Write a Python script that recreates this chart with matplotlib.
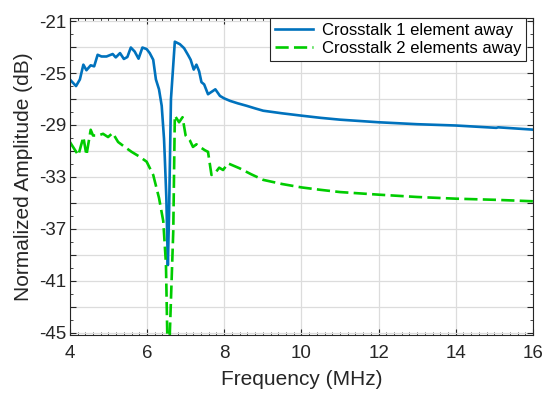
import numpy as np
import matplotlib.pyplot as plt
from matplotlib.ticker import MultipleLocator, FixedLocator, FuncFormatter

plt.rcParams['font.family'] = ['Liberation Sans', 'DejaVu Sans']

# crosstalk 1 element away (MHz, dB)
f1 = [4.00, 4.16, 4.26, 4.35, 4.43, 4.54, 4.63, 4.72, 4.82, 4.95, 5.11, 5.19, 5.30,
      5.40, 5.49, 5.58, 5.68, 5.78, 5.88, 5.99, 6.07, 6.16, 6.23, 6.31, 6.38, 6.44,
      6.46, 6.50, 6.54, 6.57, 6.62, 6.72, 6.85, 6.96, 7.06, 7.13, 7.21, 7.28, 7.35,
      7.41, 7.48, 7.58, 7.77, 7.89, 8.0, 8.15, 8.35, 8.58, 8.8, 9.01, 9.5, 10.0, 10.5,
      11.0, 12.0, 13.0, 14.0, 15.05, 15.1, 15.96, 16.0]
a1 = [-25.49, -26.0, -25.49, -24.35, -24.78, -24.40, -24.48, -23.59, -23.72, -23.72,
      -23.53, -23.79, -23.46, -23.91, -23.76, -23.03, -23.34, -23.89, -23.03, -23.15,
      -23.46, -23.97, -25.49, -26.25, -27.52, -30.06, -31.5, -34.6, -39.8, -35.9,
      -27.0, -22.58, -22.77, -23.08, -23.59, -23.97, -24.73, -24.35, -24.86, -25.70,
      -25.87, -26.63, -26.25, -26.76, -26.95, -27.14, -27.33, -27.52, -27.72, -27.9,
      -28.1, -28.28, -28.45, -28.59, -28.79, -28.94, -29.04, -29.22, -29.18, -29.35,
      -29.36]

# crosstalk 2 elements away
f2 = [4.00, 4.22, 4.35, 4.43, 4.54, 4.60, 4.73, 4.86, 4.99, 5.11, 5.25, 5.42, 5.60,
      5.81, 5.99, 6.16, 6.31, 6.42, 6.49, 6.53, 6.58, 6.68, 6.72, 6.83, 6.92, 7.00,
      7.11, 7.19, 7.28, 7.37, 7.50, 7.58, 7.67, 7.76, 7.87, 7.97, 8.10, 8.40, 8.7,
      9.01, 9.5, 10.0, 10.5, 11.0, 12.0, 13.0, 14.0, 15.05, 16.0]
a2 = [-30.31, -31.33, -29.93, -31.33, -29.37, -29.81, -29.81, -29.68, -29.93, -29.62,
      -30.31, -30.69, -31.07, -31.45, -31.83, -32.85, -34.62, -36.40, -39.70, -46.0,
      -46.0, -37.16, -28.28, -28.79, -28.40, -29.81, -30.19, -30.69, -30.49, -30.69,
      -30.95, -31.07, -32.85, -32.72, -32.29, -32.47, -31.96, -32.34, -32.8, -33.23,
      -33.55, -33.81, -34.0, -34.17, -34.37, -34.55, -34.68, -34.77, -34.88]

ytick_vals = np.arange(-45, -20, 2)

fig = plt.figure(figsize=(5.5, 3.99), dpi=100)
ax = fig.add_axes([0.127, 0.160, 0.842, 0.795])

ax.plot(f1, a1, color='#0072BD', lw=1.9, label='Crosstalk 1 element away')
ax.plot(f2, a2, color='#00CC00', lw=1.9, ls=(0, (5, 2)), label='Crosstalk 2 elements away')

ax.set_xlim(4, 16)
ax.set_ylim(-45.2, -20.75)
ax.xaxis.set_major_locator(MultipleLocator(2))
ax.xaxis.set_minor_locator(MultipleLocator(0.2))
ax.yaxis.set_major_locator(FixedLocator(ytick_vals))
ax.yaxis.set_minor_locator(MultipleLocator(1))
ax.yaxis.set_major_formatter(FuncFormatter(lambda v, p: '%d' % round(v) if round(v) % 4 == 3 else ''))

ax.grid(True, which='major', color='#dcdcdc', lw=0.9)
ax.set_axisbelow(True)
ax.tick_params(which='both', direction='in', top=True, right=True, colors='#262626', labelsize=13.5)
ax.tick_params(which='major', length=4)
ax.tick_params(which='minor', length=2.5)
ax.tick_params(axis='x', pad=7)
ax.tick_params(axis='y', pad=2.5)
for s in ax.spines.values():
    s.set_color('#262626')
    s.set_linewidth(0.8)

ax.set_xlabel('Frequency (MHz)', fontsize=15, color='#262626', labelpad=6)
ax.set_ylabel('Normalized Amplitude (dB)', fontsize=15, color='#262626', labelpad=4)

leg = ax.legend(loc='upper right', bbox_to_anchor=(0.985, 1.0), fontsize=12, fancybox=False,
                framealpha=1, edgecolor='#262626', handlelength=2.3, borderpad=0.3,
                labelspacing=0.2, handletextpad=0.5, borderaxespad=0)
leg.get_frame().set_linewidth(0.8)

plt.savefig('out.png', dpi=100)
